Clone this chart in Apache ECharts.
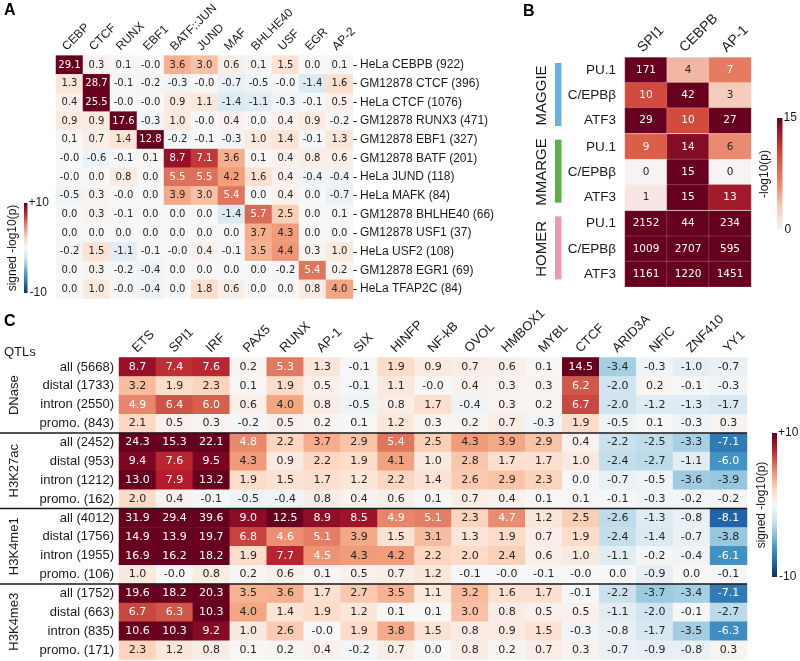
<!DOCTYPE html>
<html>
<head>
<meta charset="utf-8">
<script src="https://cdn.jsdelivr.net/npm/echarts@6/dist/echarts.min.js"></script>
<style>
html, body { margin: 0; padding: 0; background: #fff; }
#chart { width: 800px; height: 661px; }
</style>
</head>
<body>
<div id="chart"></div>
<script>
// ---- panel A: motif enrichment per ChIP-seq QTL set ----
const aCols = ['CEBP', 'CTCF', 'RUNX', 'EBF1', 'BATF::JUN', 'JUND', 'MAF', 'BHLHE40', 'USF', 'EGR', 'AP-2'];
const aRows = [
  'HeLa CEBPB (922)', 'GM12878 CTCF (396)', 'HeLa CTCF (1076)', 'GM12878 RUNX3 (471)',
  'GM12878 EBF1 (327)', 'GM12878 BATF (201)', 'HeLa JUND (118)', 'HeLa MAFK (84)',
  'GM12878 BHLHE40 (66)', 'GM12878 USF1 (37)', 'HeLa USF2 (108)', 'GM12878 EGR1 (69)', 'HeLa TFAP2C (84)'
];
const aValues = [
  [29.1, 0.3, 0.1, -0.0, 3.6, 3.0, 0.6, 0.1, 1.5, 0.0, 0.1],
  [1.3, 28.7, -0.1, -0.2, -0.3, -0.0, -0.7, -0.5, -0.0, -1.4, 1.6],
  [0.4, 25.5, -0.0, -0.0, 0.9, 1.1, -1.4, -1.1, -0.3, -0.1, 0.5],
  [0.9, 0.9, 17.6, -0.3, 1.0, -0.0, 0.4, 0.0, 0.4, 0.9, -0.2],
  [0.1, 0.7, 1.4, 12.8, -0.2, -0.1, -0.3, 1.0, 1.4, -0.1, 1.3],
  [-0.0, -0.6, -0.1, 0.1, 8.7, 7.1, 3.6, 0.1, 0.4, 0.8, 0.6],
  [-0.0, 0.0, 0.8, 0.0, 5.5, 5.5, 4.2, 1.6, 0.4, -0.4, -0.4],
  [-0.5, 0.3, -0.0, 0.0, 3.9, 3.0, 5.4, 0.0, 0.4, 0.0, -0.7],
  [0.0, 0.3, -0.1, 0.0, 0.0, 0.0, -1.4, 5.7, 2.5, 0.0, 0.1],
  [0.0, 0.0, 0.0, 0.0, 0.0, 0.0, 0.0, 3.7, 4.3, 0.0, 0.0],
  [-0.2, 1.5, -1.1, -0.1, -0.0, 0.4, -0.1, 3.5, 4.4, 0.3, 1.0],
  [0.0, 0.3, -0.2, -0.4, 0.0, 0.0, 0.0, 0.0, -0.2, 5.4, 0.2],
  [0.0, 1.0, -0.0, -0.4, 0.0, 1.8, 0.6, 0.0, 0.0, 0.8, 4.0]
];

// ---- panel B: tool comparison ----
const bCols = ['SPI1', 'CEBPB', 'AP-1'];
const bRows = ['PU.1', 'C/EPBβ', 'ATF3'];
const bTools = ['MAGGIE', 'MMARGE', 'HOMER'];
const bToolColors = ['#6cb0e3', '#5bb04a', '#ec9aab'];
const bMaggie = [[171, 4, 7], [10, 42, 3], [29, 10, 27]];
const bMmarge = [[9, 14, 6], [0, 15, 0], [1, 15, 13]];
const bHomer = [[2152, 44, 234], [1009, 2707, 595], [1161, 1220, 1451]];

// ---- panel C: histone / DNase QTLs ----
const cCols = ['ETS', 'SPI1', 'IRF', 'PAX5', 'RUNX', 'AP-1', 'SIX', 'HINFP', 'NF-kB', 'OVOL', 'HMBOX1', 'MYBL', 'CTCF', 'ARID3A', 'NFIC', 'ZNF410', 'YY1'];
const cGroups = ['DNase', 'H3K27ac', 'H3K4me1', 'H3K4me3'];
const cDnaseRows = ['all (5668)', 'distal (1733)', 'intron (2550)', 'promo. (843)'];
const cDnase = [
  [8.7, 7.4, 7.6, 0.2, 5.3, 1.3, -0.1, 1.9, 0.9, 0.7, 0.6, 0.1, 14.5, -3.4, -0.3, -1.0, -0.7],
  [3.2, 1.9, 2.3, 0.1, 1.9, 0.5, -0.1, 1.1, -0.0, 0.4, 0.3, 0.3, 6.2, -2.0, 0.2, -0.1, -0.3],
  [4.9, 6.4, 6.0, 0.6, 4.0, 0.8, -0.5, 0.8, 1.7, -0.4, 0.3, 0.2, 6.7, -2.0, -1.2, -1.3, -1.7],
  [2.1, 0.5, 0.3, -0.2, 0.5, 0.2, 0.1, 1.2, 0.3, 0.2, 0.7, -0.3, 1.9, -0.5, 0.1, -0.3, 0.3]
];
const cK27acRows = ['all (2452)', 'distal (953)', 'intron (1212)', 'promo. (162)'];
const cK27ac = [
  [24.3, 15.3, 22.1, 4.8, 2.2, 3.7, 2.9, 5.4, 2.5, 4.3, 3.9, 2.9, 0.4, -2.2, -2.5, -3.3, -7.1],
  [9.4, 7.6, 9.5, 4.3, 0.9, 2.2, 1.9, 4.1, 1.0, 2.8, 1.7, 1.7, 1.0, -2.4, -2.7, -1.1, -6.0],
  [13.0, 7.9, 13.2, 1.9, 1.5, 1.7, 1.2, 2.2, 1.4, 2.6, 2.9, 2.3, 0.0, -0.7, -0.5, -3.6, -3.9],
  [2.0, 0.4, -0.1, -0.5, -0.4, 0.8, 0.4, 0.6, 0.1, 0.7, 0.4, 0.1, 0.1, -0.1, -0.3, -0.2, -0.2]
];
const cK4me1Rows = ['all (4012)', 'distal (1756)', 'intron (1955)', 'promo. (106)'];
const cK4me1 = [
  [31.9, 29.4, 39.6, 9.0, 12.5, 8.9, 8.5, 4.9, 5.1, 2.3, 4.7, 1.2, 2.5, -2.6, -1.3, -0.8, -8.1],
  [14.9, 13.9, 19.7, 6.8, 4.6, 5.1, 3.9, 1.5, 3.1, 1.3, 1.9, 0.7, 1.9, -2.4, -1.4, -0.7, -3.8],
  [16.9, 16.2, 18.2, 1.9, 7.7, 4.5, 4.3, 4.2, 2.2, 2.0, 2.4, 0.6, 1.0, -1.1, -0.2, -0.4, -6.1],
  [1.0, -0.0, 0.8, 0.2, 0.6, 0.1, 0.5, 0.7, 1.2, -0.1, -0.0, -0.1, -0.0, 0.0, -0.9, 0.0, -0.1]
];
const cK4me3Rows = ['all (1752)', 'distal (663)', 'intron (835)', 'promo. (171)'];
const cK4me3 = [
  [19.6, 18.2, 20.3, 3.5, 3.6, 1.7, 2.7, 3.5, 1.1, 3.2, 1.6, 1.7, -0.1, -2.2, -3.7, -3.4, -7.1],
  [6.7, 6.3, 10.3, 4.0, 1.4, 1.9, 1.2, 0.1, 0.1, 3.0, 0.8, 0.5, 0.5, -1.1, -2.0, -0.1, -2.7],
  [10.6, 10.3, 9.2, 1.0, 2.6, -0.0, 1.9, 3.8, 1.5, 0.8, 0.9, 1.5, -0.3, -0.8, -1.7, -3.5, -6.3],
  [2.3, 1.2, 0.8, 0.1, 0.2, 0.4, -0.2, 0.7, 0.0, 0.8, 0.2, 0.7, 0.3, -0.7, -0.9, -0.8, 0.3]
];

const LABEL_FONT = '"Liberation Sans", Arial, sans-serif';
const NUM_FONT = '"DejaVu Sans", sans-serif';
const TXT = '#1a1a1a';

const rdbu = ['#053061', '#2166ac', '#4393c3', '#92c5de', '#d1e5f0', '#f7f7f7', '#fddbc7', '#f4a582', '#d6604d', '#b2182b', '#67001f'];
const reds = ['#f7f3f3', '#f6cdbd', '#ea8a6e', '#dc5d48', '#c0272e', '#67001f'];

function fmt1(v) {
  return (v < 0 || Object.is(v, -0)) ? '-' + Math.abs(v).toFixed(1) : v.toFixed(1);
}
function fmtInt(v) { return String(v); }

function cells(matrix, fmt, whiteIf) {
  const out = [];
  matrix.forEach((row, r) => row.forEach((v, c) => {
    out.push({ value: [c, r, v], label: { formatter: fmt(v), color: whiteIf(v) ? '#ffffff' : '#262626' } });
  }));
  return out;
}

function gradientStops(colors) {
  // top of the bar = high end
  return colors.slice().reverse().map((c, i, arr) => ({ offset: i / (arr.length - 1), color: c }));
}

// rotated column labels: text starts a little left of the cell centre, reading up-right
function colLabel(show, fontSize, margin, shift) {
  return {
    show: show, rotate: -45, margin: margin, align: 'left', verticalAlign: 'bottom',
    padding: [0, 0, -6, shift], fontSize: fontSize, fontFamily: LABEL_FONT, color: TXT, interval: 0
  };
}

// layout
const A = { left: 56, top: 51.5, width: 297, height: 247 };
const B = { left: 625, top: 57.5, width: 126, groupH: 75.8, gap: 0.9 };
const C = { left: 118, top: 357.5, width: 629, groupH: 75.5 };

const grids = [], xAxes = [], yAxes = [], series = [];

function heatSeries(idx, data, fontSize, border) {
  return {
    type: 'heatmap', xAxisIndex: idx, yAxisIndex: idx, data: data,
    label: { show: true, fontFamily: NUM_FONT, fontSize: fontSize },
    itemStyle: border ? { borderColor: 'rgba(255,255,255,0.35)', borderWidth: 0.5 } : { borderWidth: 0 },
    emphasis: { disabled: true },
    silent: true
  };
}

// panel A
grids.push({ left: A.left, top: A.top, width: A.width, height: A.height });
xAxes.push({
  gridIndex: 0, type: 'category', data: aCols, position: 'top',
  axisLine: { show: false }, axisTick: { show: false },
  axisLabel: colLabel(true, 12, 12, -7.1)
});
yAxes.push({
  gridIndex: 0, type: 'category', data: aRows, inverse: true, position: 'right',
  axisLine: { show: false },
  axisTick: { show: true, length: 4, alignWithLabel: true, lineStyle: { color: '#333' } },
  axisLabel: { margin: 7, fontSize: 12, fontFamily: LABEL_FONT, color: TXT, interval: 0 }
});
series.push(heatSeries(0, cells(aValues, fmt1, v => Math.abs(v) >= 4.45), 10, false));

// panel B
[bMaggie, bMmarge, bHomer].forEach((m, g) => {
  const idx = grids.length;
  grids.push({ left: B.left, top: B.top + g * (B.groupH + B.gap), width: B.width, height: B.groupH });
  xAxes.push({
    gridIndex: idx, type: 'category', data: bCols, position: 'top',
    axisLine: { show: false }, axisTick: { show: false },
    axisLabel: colLabel(g === 0, 14, 12, -7.4)
  });
  yAxes.push({
    gridIndex: idx, type: 'category', data: bRows, inverse: true,
    name: bTools[g], nameLocation: 'middle', nameRotate: 90, nameGap: 76,
    nameTextStyle: { fontSize: 15, fontFamily: LABEL_FONT, color: TXT },
    axisLine: { show: false }, axisTick: { show: false },
    axisLabel: { margin: 9, fontSize: 13.5, fontFamily: LABEL_FONT, color: TXT, interval: 0 }
  });
  series.push(heatSeries(idx, cells(m, fmtInt, v => v >= 6.5), 10.5, true));
});

// panel C
[[cDnase, cDnaseRows], [cK27ac, cK27acRows], [cK4me1, cK4me1Rows], [cK4me3, cK4me3Rows]].forEach(([m, rows], g) => {
  const idx = grids.length;
  grids.push({ left: C.left, top: C.top + g * C.groupH, width: C.width, height: C.groupH });
  xAxes.push({
    gridIndex: idx, type: 'category', data: cCols, position: 'top',
    axisLine: { show: false }, axisTick: { show: false },
    axisLabel: colLabel(g === 0, 13, 9.2, -3.6)
  });
  yAxes.push({
    gridIndex: idx, type: 'category', data: rows, inverse: true,
    name: cGroups[g], nameLocation: 'middle', nameRotate: 90, nameGap: 98,
    nameTextStyle: { fontSize: 13, fontFamily: LABEL_FONT, color: TXT },
    axisLine: { show: false }, axisTick: { show: false },
    axisLabel: { margin: 5, fontSize: 13, fontFamily: LABEL_FONT, color: TXT, interval: 0 }
  });
  series.push(heatSeries(idx, cells(m, fmt1, v => Math.abs(v) >= 4.45), 11, false));
});

// decorations: panel letters, colour bars, group bars, separators
const graphic = [];
const letter = (t, x, y) => ({ type: 'text', left: x, top: y, style: { text: t, font: 'bold 16px ' + LABEL_FONT, fill: '#000' } });
graphic.push(letter('A', 4, 3), letter('B', 523, 4), letter('C', 4, 314));
graphic.push({ type: 'text', left: 4, top: 346, style: { text: 'QTLs', font: '13px ' + LABEL_FONT, fill: TXT } });

function colorBar(x, y, w, h, colors, topText, bottomText, title, titleX) {
  graphic.push({
    type: 'rect', shape: { x: x, y: y, width: w, height: h },
    style: { fill: { type: 'linear', x: 0, y: 0, x2: 0, y2: 1, colorStops: gradientStops(colors) } }
  });
  graphic.push({ type: 'text', x: x + w + 1, y: y, style: { text: topText, font: '12px ' + LABEL_FONT, fill: TXT, verticalAlign: 'middle' } });
  graphic.push({ type: 'text', x: x + w + 2, y: y + h, style: { text: bottomText, font: '12px ' + LABEL_FONT, fill: TXT, verticalAlign: 'middle' } });
  graphic.push({
    type: 'text', x: titleX, y: y + h / 2, rotation: Math.PI / 2,
    style: { text: title, font: '12px ' + LABEL_FONT, fill: TXT, align: 'center', verticalAlign: 'middle' }
  });
}
colorBar(24, 203, 3.5, 90, rdbu, '+10', '-10', 'signed -log10(p)', 13);
colorBar(777, 118, 5.5, 112, reds, '15', '0', '-log10(p)', 765);
colorBar(772, 433, 5, 144, rdbu, '+10', '-10', 'signed -log10(p)', 762);

bTools.forEach((t, g) => {
  graphic.push({
    type: 'rect',
    shape: { x: 555, y: B.top + g * (B.groupH + B.gap) + 5.5, width: 6.5, height: 63 },
    style: { fill: bToolColors[g] }
  });
});

for (let g = 1; g < cGroups.length; g++) {
  const y = C.top + g * C.groupH;
  graphic.push({
    type: 'line', shape: { x1: 0, y1: y, x2: C.left + C.width, y2: y },
    style: { stroke: '#1a1a1a', lineWidth: 1.6 }, z: 100
  });
}

const chart = echarts.init(document.getElementById('chart'));
chart.setOption({
  animation: false,
  backgroundColor: '#ffffff',
  grid: grids,
  xAxis: xAxes,
  yAxis: yAxes,
  visualMap: [
    { type: 'continuous', show: false, min: -10, max: 10, seriesIndex: [0, 4, 5, 6, 7], inRange: { color: rdbu } },
    { type: 'continuous', show: false, min: 0, max: 15, seriesIndex: [1, 2, 3], inRange: { color: reds } }
  ],
  series: series,
  graphic: graphic
});
</script>
</body>
</html>
